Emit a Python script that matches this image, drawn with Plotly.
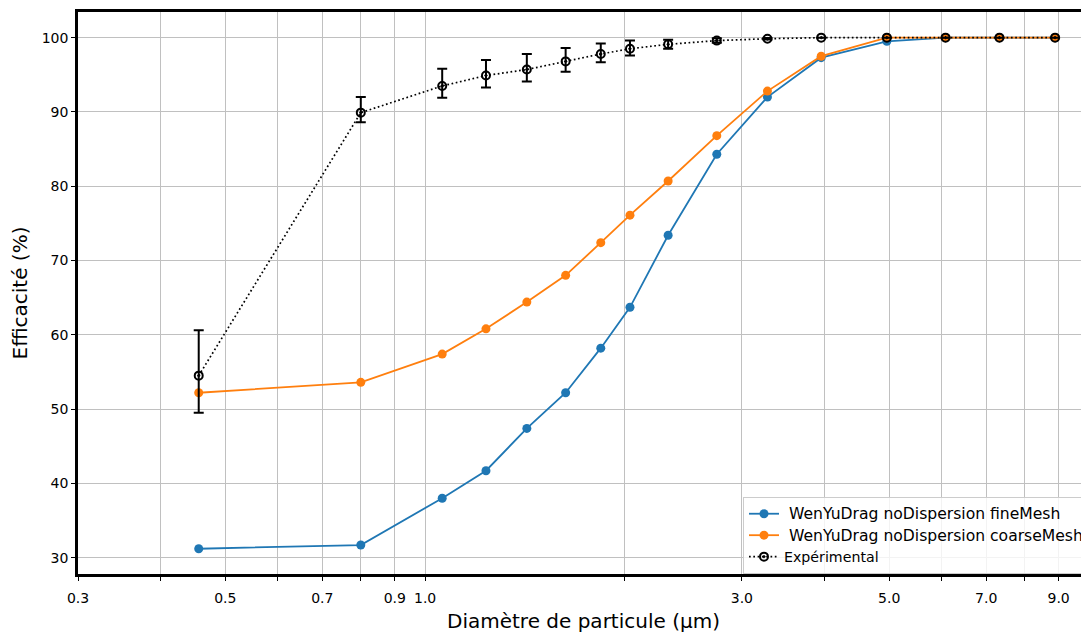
import math
import plotly.graph_objects as go

# Data (diameter in µm, efficiency in %)
diam = [0.456, 0.80, 1.061, 1.235, 1.423, 1.628, 1.839, 2.035, 2.323, 2.750, 3.278, 3.95, 4.96, 6.08, 7.33, 8.89]
fine_mesh = [31.2, 31.7, 38.0, 41.7, 47.4, 52.2, 58.2, 63.7, 73.4, 84.3, 92.0, 97.3, 99.5, 100.0, 100.0, 100.0]
coarse_mesh = [52.2, 53.6, 57.4, 60.8, 64.4, 68.0, 72.4, 76.1, 80.7, 86.8, 92.8, 97.5, 100.0, 100.0, 100.0, 100.0]
experimental = [54.5, 89.9, 93.5, 94.9, 95.7, 96.8, 97.8, 98.5, 99.1, 99.6, 99.85, 100.0, 100.0, 100.0, 100.0, 100.0]
exp_err_plus = [6.1, 2.1, 2.3, 2.1, 2.1, 1.8, 1.4, 1.1, 0.6, 0.3, 0.1, 0.0, 0.0, 0.0, 0.0, 0.0]
exp_err_minus = [5.0, 1.3, 1.6, 1.6, 1.6, 1.4, 1.1, 0.9, 0.6, 0.3, 0.1, 0.0, 0.0, 0.0, 0.0, 0.0]

names = [" WenYuDrag noDispersion fineMesh", " WenYuDrag noDispersion coarseMesh", "Expérimental"]

x_tickvals = [0.3, 0.4, 0.5, 0.6, 0.7, 0.8, 0.9, 1.0, 2.0, 3.0, 4.0, 5.0, 6.0, 7.0, 8.0, 9.0]
x_ticktext = ["0.3", "", "0.5", "", "0.7", "", "0.9", "1.0", "", "3.0", "", "5.0", "", "7.0", "", "9.0"]
y_tickvals = [30, 40, 50, 60, 70, 80, 90, 100]

FONT = "DejaVu Sans, Verdana, sans-serif"
BLUE = "#1f77b4"
ORANGE = "#ff7f0e"


def big(label):
    return '<span style="font-size:15.6px">' + label + "</span>"


fig = go.Figure()
fig.add_trace(go.Scatter(
    x=diam, y=fine_mesh, name=big(names[0]), mode="lines+markers",
    line=dict(color=BLUE, width=1.8), marker=dict(color=BLUE, size=9)))
fig.add_trace(go.Scatter(
    x=diam, y=coarse_mesh, name=big(names[1]), mode="lines+markers",
    line=dict(color=ORANGE, width=1.8), marker=dict(color=ORANGE, size=9)))
fig.add_trace(go.Scatter(
    x=diam, y=experimental, name=names[2], mode="lines+markers",
    line=dict(color="black", width=1.7, dash="1.7px,2.6px"),
    marker=dict(symbol="circle-open-dot", color="black", size=8, line=dict(width=2, color="black")),
    error_y=dict(type="data", symmetric=False, array=exp_err_plus, arrayminus=exp_err_minus,
                 color="black", thickness=2, width=5)))

# page body has an 8px margin: figure is offset by 8px right/down
fig.update_layout(
    width=1081, height=625,
    margin=dict(l=70, r=0, t=4, b=53),
    paper_bgcolor="white", plot_bgcolor="white",
    font=dict(family=FONT, size=14, color="black"),
    showlegend=True,
    legend=dict(x=1.0, y=0.0, xanchor="right", yanchor="bottom",
                bgcolor="rgba(255,255,255,0.8)", bordercolor="#cccccc", borderwidth=1,
                font=dict(family=FONT, size=14.2, color="black")),
)
fig.update_xaxes(
    type="log", range=[math.log10(0.3), math.log10(10)],
    tickmode="array", tickvals=x_tickvals, ticktext=x_ticktext,
    showgrid=True, gridcolor="#c0c0c0", gridwidth=1,
    showline=True, linecolor="black", linewidth=2.5, mirror=True,
    ticks="outside", ticklen=4, tickwidth=1, tickcolor="black",
    ticklabelstandoff=5,
    title=dict(text="Diamètre de particule (µm)", font=dict(family=FONT, size=20), standoff=13),
    zeroline=False)
fig.update_yaxes(
    range=[27.8, 103.45],
    tickmode="array", tickvals=y_tickvals,
    showgrid=True, gridcolor="#c0c0c0", gridwidth=1,
    showline=True, linecolor="black", linewidth=2.5, mirror=False,
    ticks="outside", ticklen=4, tickwidth=1, tickcolor="black",
    title=dict(text="Efficacité (%)", font=dict(family=FONT, size=20), standoff=10),
    zeroline=False)

fig.write_html("out.html")
